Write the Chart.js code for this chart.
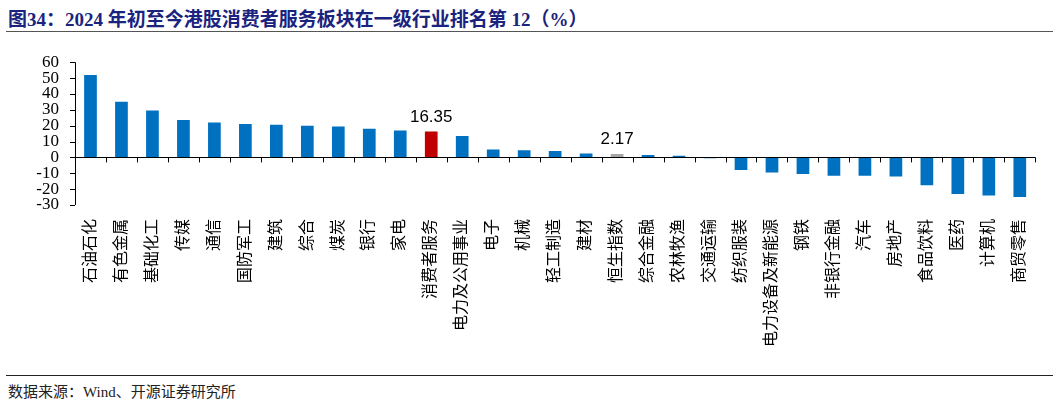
<!DOCTYPE html>
<html>
<head>
<meta charset="utf-8">
<script src="https://cdn.jsdelivr.net/npm/chart.js@4"></script>
<style>
  body { margin: 0; background: #fff; width: 1057px; height: 405px; position: relative; overflow: hidden; }
  #title { position: absolute; left: 8px; top: 4px; font: bold 19px "Liberation Serif", "Noto Sans CJK SC", serif; color: #1a237e; }
  #line1 { position: absolute; left: 6px; right: 4px; top: 31px; border-top: 1.5px solid #555; }
  #line2 { position: absolute; left: 6px; right: 4px; top: 375px; border-top: 1.5px solid #222; }
  #source { position: absolute; left: 8px; top: 380px; font: 15px "Liberation Serif", "Noto Sans CJK SC", serif; color: #222; }
  #wrap { position: absolute; left: 0; top: 44px; width: 1045px; height: 326px; }
</style>
</head>
<body>
<div id="title">图34：2024 年初至今港股消费者服务板块在一级行业排名第 12（%）</div>
<div id="line1"></div>
<div id="wrap"><canvas id="chart"></canvas></div>
<div id="line2"></div>
<div id="source">数据来源：Wind、开源证券研究所</div>
<script>
const categories = ["石油石化","有色金属","基础化工","传媒","通信","国防军工","建筑","综合","煤炭","银行","家电","消费者服务","电力及公用事业","电子","机械","轻工制造","建材","恒生指数","综合金融","农林牧渔","交通运输","纺织服装","电力设备及新能源","钢铁","非银行金融","汽车","房地产","食品饮料","医药","计算机","商贸零售"];
const values = [52, 35, 29.5, 23.5, 22, 21, 20.5, 20, 19.5, 18, 17, 16.35, 13.5, 5, 4.5, 4, 2.5, 2.17, 1.5, 1, -0.5, -8, -9.5, -10.5, -11.5, -11.5, -12, -17.5, -23, -24, -25];
const yTicks = [-30, -20, -10, 0, 10, 20, 30, 40, 50, 60];
const labelled = ["消费者服务", "恒生指数"];

const colors = categories.map(c => c === "消费者服务" ? "#c00000" : c === "恒生指数" ? "#a6a6a6" : "#0070c0");
const serif = '"Liberation Serif", "Noto Sans CJK SC", serif';

// axis lines: y axis on the left, category axis along zero
const axisLines = {
  id: "axisLines",
  afterDatasetsDraw(chart) {
    const ctx = chart.ctx;
    const x = chart.scales.x, y = chart.scales.y;
    const area = chart.chartArea;
    const y0 = y.getPixelForValue(0);
    ctx.save();
    ctx.strokeStyle = "#000";
    ctx.lineWidth = 1;
    ctx.beginPath();
    ctx.moveTo(area.left + 0.5, area.top);
    ctx.lineTo(area.left + 0.5, area.bottom);
    yTicks.forEach(v => {
      const py = Math.round(y.getPixelForValue(v)) + 0.5;
      ctx.moveTo(area.left - 5, py);
      ctx.lineTo(area.left, py);
    });
    ctx.moveTo(area.left, Math.round(y0) + 0.5);
    ctx.lineTo(area.right, Math.round(y0) + 0.5);
    const step = (area.right - area.left) / categories.length;
    for (let i = 1; i <= categories.length; i++) {
      const px = Math.round(area.left + i * step) + 0.5;
      ctx.moveTo(px, y0);
      ctx.lineTo(px, y0 + 5);
    }
    ctx.stroke();

    const meta = chart.getDatasetMeta(0);
    ctx.font = '17px "Liberation Sans", "Noto Sans", sans-serif';
    ctx.fillStyle = "#000";
    ctx.textAlign = "center";
    ctx.textBaseline = "bottom";
    categories.forEach((c, i) => {
      if (!labelled.includes(c)) return;
      const bar = meta.data[i];
      ctx.fillText(values[i].toFixed(2), bar.x, bar.y - 6);
    });
    ctx.restore();
  }
};

new Chart(document.getElementById("chart").getContext("2d"), {
  type: "bar",
  data: {
    labels: categories,
    datasets: [{ data: values, backgroundColor: colors, categoryPercentage: 0.82, barPercentage: 0.5 }]
  },
  options: {
    responsive: true,
    maintainAspectRatio: false,
    animation: false,
    layout: { padding: { top: 10, right: 0, left: 0, bottom: 0 } },
    plugins: { legend: { display: false }, tooltip: { enabled: false } },
    scales: {
      x: {
        position: "bottom",
        border: { display: false },
        grid: { display: false },
        afterFit: axis => { axis.height = 165; },
        ticks: { color: "#000", font: { family: serif, size: 16 }, minRotation: 90, maxRotation: 90, autoSkip: false, padding: 6 }
      },
      y: {
        min: -30,
        max: 60,
        afterBuildTicks: axis => { axis.ticks = yTicks.map(v => ({ value: v })); },
        afterFit: axis => { axis.width = 75; },
        border: { display: false },
        grid: { display: false },
        ticks: { color: "#000", font: { family: serif, size: 17 }, padding: 8, autoSkip: false }
      }
    }
  },
  plugins: [axisLines]
});
</script>
</body>
</html>
